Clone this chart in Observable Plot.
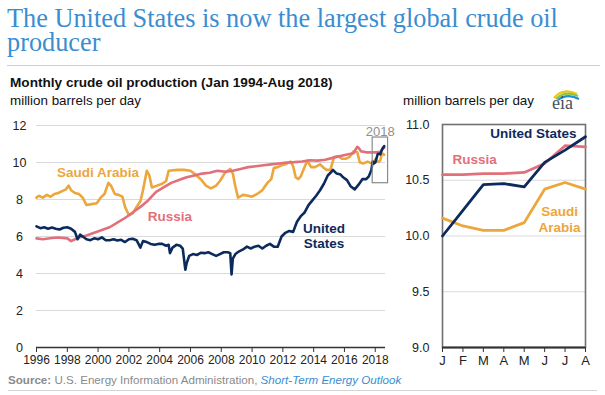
<!DOCTYPE html>
<html>
<head>
<meta charset="utf-8">
<script src="https://cdn.jsdelivr.net/npm/d3@7"></script>
<script src="https://cdn.jsdelivr.net/npm/@observablehq/plot@0.6"></script>
<style>
  html, body { margin: 0; padding: 0; background: #fff; }
  body { width: 605px; height: 395px; position: relative; overflow: hidden;
         font-family: "Liberation Sans", Arial, sans-serif; color: #222; }
  .abs { position: absolute; white-space: nowrap; }
  #title { left: 7px; top: 7px; font-family: "Liberation Serif", "Times New Roman", serif;
           font-size: 26.3px; line-height: 24px; color: #3a8dd0; white-space: normal; width: 590px; }
  #rule1 { left: 7px; top: 65px; width: 593px; height: 0; border-top: 1px solid #cfcfcf; }
  #sub { left: 10px; top: 75px; font-size: 13.6px; line-height: 15px; font-weight: bold; color: #111; }
  #unitL { left: 10px; top: 94px; font-size: 13.4px; line-height: 14px; color: #111; }
  #unitR { left: 403px; top: 94px; font-size: 13.4px; line-height: 14px; color: #111; }
  #logo { left: 548px; top: 86px; }
  #left { left: 0px; top: 110px; }
  #right { left: 395px; top: 110px; }
  #foot { left: 8px; top: 373px; font-size: 11.6px; line-height: 14px; color: #8a8a8a; }
  #foot b { color: #8a8a8a; }
  #foot i { color: #3a8dd0; }
  #rule2 { left: 8px; top: 390px; width: 589px; height: 0; border-top: 1px solid #d5d5d5; }
</style>
</head>
<body>
<div id="title" class="abs">The United States is now the largest global crude oil producer</div>
<div id="rule1" class="abs"></div>
<div id="sub" class="abs">Monthly crude oil production (Jan 1994-Aug 2018)</div>
<div id="unitL" class="abs">million barrels per day</div>
<div id="unitR" class="abs">million barrels per day</div>
<div id="logo" class="abs">
  <svg width="34" height="26" viewBox="0 0 34 26">
    <path d="M6 12 Q15 1 29 8" fill="none" stroke="#f2c51c" stroke-width="2.2"/>
    <path d="M8 13 Q17 4 30 10" fill="none" stroke="#8cc63f" stroke-width="2.2"/>
    <path d="M10 14 Q19 7 31 13" fill="none" stroke="#1e90d6" stroke-width="2.2"/>
    <text x="4" y="23" font-family="Liberation Serif, serif" font-size="18" fill="#44525e">eia</text>
  </svg>
</div>
<div id="left" class="abs"></div>
<div id="right" class="abs"></div>
<div id="foot" class="abs"><b>Source:</b> U.S. Energy Information Administration, <i>Short-Term Energy Outlook</i></div>
<div id="rule2" class="abs"></div>

<script>
// ---------------- DATA ----------------
const seriesNames = ["Saudi Arabia", "Russia", "United States"];
const seriesColors = ["#eca63b", "#e2707b", "#0c2b5c"];

// Monthly crude oil production, million barrels per day
const usProd = [
  ["1996-01",6.55],["1996-04",6.45],["1996-07",6.5],["1996-10",6.42],["1997-01",6.48],["1997-04",6.42],
  ["1997-07",6.38],["1997-10",6.47],["1998-01",6.5],["1998-04",6.42],["1998-07",6.25],["1998-09",5.85],
  ["1998-11",6.1],["1999-01",6.0],["1999-04",5.85],["1999-07",5.8],["1999-10",5.9],["2000-01",5.85],
  ["2000-04",5.95],["2000-07",5.8],["2000-10",5.8],["2001-01",5.85],["2001-04",5.78],["2001-07",5.82],
  ["2001-10",5.7],["2002-01",5.85],["2002-04",5.88],["2002-07",5.8],["2002-10",5.4],["2002-12",5.75],
  ["2003-03",5.7],["2003-06",5.6],["2003-09",5.55],["2003-12",5.6],["2004-03",5.6],["2004-06",5.5],
  ["2004-08",5.55],["2004-09",5.1],["2004-11",5.4],["2005-02",5.55],["2005-05",5.5],["2005-07",5.35],
  ["2005-09",4.2],["2005-10",4.55],["2005-12",4.95],["2006-03",5.05],["2006-06",5.0],["2006-09",5.12],
  ["2006-12",5.1],["2007-03",5.15],["2007-06",5.05],["2007-09",4.95],["2007-12",5.05],["2008-03",5.15],
  ["2008-06",5.15],["2008-08",5.1],["2008-09",3.95],["2008-10",4.8],["2008-12",5.05],["2009-03",5.2],
  ["2009-06",5.3],["2009-09",5.45],["2009-12",5.35],["2010-03",5.45],["2010-06",5.5],["2010-09",5.35],
  ["2010-12",5.5],["2011-03",5.6],["2011-06",5.45],["2011-09",5.45],["2011-12",6.0],["2012-03",6.2],
  ["2012-06",6.3],["2012-09",6.25],["2012-12",6.8],["2013-03",7.1],["2013-06",7.3],["2013-09",7.7],
  ["2013-12",7.95],["2014-03",8.2],["2014-06",8.5],["2014-09",8.85],["2014-12",9.3],["2015-03",9.5],
  ["2015-04",9.6],["2015-07",9.4],["2015-10",9.35],["2015-12",9.2],["2016-03",9.05],["2016-06",8.7],
  ["2016-09",8.55],["2016-12",8.8],["2017-03",9.1],["2017-06",9.1],["2017-08",9.25],["2017-10",9.6],
  ["2017-11",10.05],["2017-12",9.95],["2018-01",10.0],["2018-02",10.23],["2018-03",10.46],["2018-04",10.47],
  ["2018-05",10.44],["2018-06",10.66],["2018-07",10.77],["2018-08",10.89]
];
const russiaProd = [
  ["1996-01",5.9],["1996-06",5.85],["1997-01",5.92],["1997-06",5.95],["1998-01",5.9],["1998-04",5.75],
  ["1998-07",5.85],["1998-10",5.95],["1999-04",6.05],["1999-10",6.2],["2000-04",6.35],["2000-10",6.5],
  ["2001-04",6.75],["2001-10",7.0],["2002-04",7.3],["2002-10",7.6],["2003-04",7.95],["2003-10",8.4],
  ["2004-04",8.65],["2004-10",8.9],["2005-04",9.05],["2005-10",9.2],["2006-04",9.3],["2006-10",9.4],
  ["2007-04",9.45],["2007-10",9.55],["2008-04",9.5],["2008-10",9.55],["2009-04",9.65],["2009-10",9.75],
  ["2010-04",9.8],["2010-10",9.85],["2011-04",9.9],["2011-10",9.95],["2012-04",10.0],["2012-10",10.02],
  ["2013-04",10.05],["2013-10",10.12],["2014-04",10.1],["2014-10",10.15],["2015-04",10.25],["2015-10",10.35],
  ["2016-04",10.45],["2016-08",10.5],["2016-11",10.85],["2016-12",10.8],["2017-02",10.6],["2017-06",10.55],
  ["2017-10",10.55],["2017-12",10.55],["2018-01",10.55],["2018-02",10.55],["2018-03",10.56],["2018-04",10.56],
  ["2018-05",10.57],["2018-06",10.65],["2018-07",10.81],["2018-08",10.8]
];
const saudiProd = [
  ["1996-01",8.1],["1996-03",8.2],["1996-06",8.1],["1996-09",8.25],["1996-12",8.15],["1997-03",8.3],
  ["1997-06",8.35],["1997-09",8.45],["1997-12",8.55],["1998-02",8.75],["1998-04",8.5],["1998-07",8.35],
  ["1998-10",8.3],["1999-01",8.1],["1999-04",7.7],["1999-08",7.75],["1999-12",7.8],["2000-03",8.1],
  ["2000-06",8.3],["2000-09",8.9],["2000-11",8.75],["2001-02",8.3],["2001-05",8.25],["2001-08",8.15],
  ["2001-10",7.6],["2002-01",7.15],["2002-04",7.25],["2002-07",7.6],["2002-10",7.9],["2002-12",8.5],
  ["2003-03",9.55],["2003-05",9.3],["2003-07",8.65],["2003-11",8.75],["2004-03",8.85],["2004-06",9.0],
  ["2004-08",9.55],["2005-03",9.6],["2005-08",9.6],["2006-01",9.55],["2006-04",9.4],["2006-09",9.1],
  ["2007-01",8.75],["2007-05",8.6],["2007-09",8.75],["2007-12",9.0],["2008-04",9.45],["2008-08",9.65],
  ["2008-10",9.4],["2008-12",8.7],["2009-02",8.1],["2009-06",8.25],["2009-10",8.2],["2010-01",8.15],
  ["2010-05",8.3],["2010-09",8.5],["2011-01",8.9],["2011-04",9.1],["2011-06",9.7],["2011-09",9.75],
  ["2011-12",9.85],["2012-03",9.9],["2012-07",10.05],["2012-09",9.8],["2012-11",9.2],["2013-01",9.1],
  ["2013-03",9.25],["2013-05",9.6],["2013-08",10.1],["2013-11",9.75],["2014-02",9.75],["2014-06",9.9],
  ["2014-09",9.7],["2014-11",9.6],["2015-02",9.6],["2015-05",10.3],["2015-08",10.35],["2015-11",10.2],
  ["2016-02",10.2],["2016-05",10.3],["2016-08",10.6],["2016-11",10.55],["2017-01",10.0],["2017-04",9.95],
  ["2017-07",10.05],["2017-10",9.95],["2017-12",10.0],["2018-01",10.16],["2018-02",10.09],["2018-03",10.05],
  ["2018-04",10.05],["2018-05",10.12],["2018-06",10.42],["2018-07",10.48],["2018-08",10.42]
];

// 2018 detail panel (Jan-Aug)
const monthLabels = ["J","F","M","A","M","J","J","A"];
const us2018 = [10.0, 10.23, 10.46, 10.47, 10.44, 10.66, 10.77, 10.89];
const russia2018 = [10.55, 10.55, 10.56, 10.56, 10.57, 10.65, 10.81, 10.8];
const saudi2018 = [10.16, 10.09, 10.05, 10.05, 10.12, 10.42, 10.48, 10.42];

// ticks
const yTicksLeft = [0, 2, 4, 6, 8, 10, 12];
const xTickYears = [1996,1998,2000,2002,2004,2006,2008,2010,2012,2014,2016,2018];
const yTicksRight = [9.0, 9.5, 10.0, 10.5, 11.0];

// annotations (data coordinates)
const leftLabels = [
  {text: "Saudi Arabia", date: "2000-01", value: 9.5, series: 0},
  {text: "Russia", date: "2004-09", value: 7.13, series: 1},
  {text: "United\nStates", date: "2014-09", value: 6.05, series: 2}
];
const rightLabels = [
  {text: "United States", month: 5.45, value: 10.92, series: 2},
  {text: "Russia", month: 2.57, value: 10.69, series: 1},
  {text: "Saudi\nArabia", month: 6.73, value: 10.15, series: 0}
];
const box2018 = {from: "2017-11", to: "2018-11", low: 8.88, high: 11.35, label: "2018", labelDate: "2018-05", labelValue: 11.68};

// ---------------- BUILD ----------------
const parse = d3.utcParse("%Y-%m");
const rows = (arr, s) => arr.map(([d, v]) => ({date: parse(d), value: v, series: s}));
const leftData = [...rows(saudiProd, 0), ...rows(russiaProd, 1), ...rows(usProd, 2)];
const rightData = [
  ...saudi2018.map((v, i) => ({m: i + 1, value: v, series: 0})),
  ...russia2018.map((v, i) => ({m: i + 1, value: v, series: 1})),
  ...us2018.map((v, i) => ({m: i + 1, value: v, series: 2}))
];
const color = s => seriesColors[s];
const fontStyle = {fontFamily: "'Liberation Sans', Arial, sans-serif", fontSize: "12px", color: "#222", background: "transparent", overflow: "visible"};

const left = Plot.plot({
  width: 400, height: 265,
  marginLeft: 36, marginRight: 15, marginTop: 15, marginBottom: 28,
  style: fontStyle,
  x: {type: "utc", domain: [parse("1996-01"), parse("2018-09")]},
  y: {domain: [0, 12]},
  marks: [
    Plot.gridY(yTicksLeft.filter(d => d > 0), {stroke: "#d9d9d9", strokeOpacity: 1}),
    Plot.axisY(yTicksLeft, {tickSize: 0, tickPadding: 17, textAnchor: "middle", label: null, fontSize: 12.5, fill: "#222"}),
    Plot.axisX(xTickYears.map(y => new Date(Date.UTC(y, 0, 1))), {tickSize: 5, tickPadding: 3, tickFormat: d3.utcFormat("%Y"), label: null, fontSize: 12, stroke: "#333", fill: "#222"}),
    Plot.ruleY([0], {stroke: "#333", strokeWidth: 1.5}),
    ...[0, 1, 2].map(s => Plot.line(leftData.filter(d => d.series === s), {x: "date", y: "value", stroke: color(s), strokeWidth: 2.6})),
    Plot.rect([box2018], {x1: d => parse(d.from), x2: d => parse(d.to), y1: "low", y2: "high", fill: "none", stroke: "#8a8a8a", strokeWidth: 1.2}),
    Plot.text([box2018], {x: d => parse(d.labelDate), y: "labelValue", text: "label", fill: "#8f8f8f", fontSize: 13}),
    Plot.text(leftLabels, {x: d => parse(d.date), y: "value", text: "text", fill: d => color(d.series), fontWeight: "bold", fontSize: 13.5, lineHeight: 1.15})
  ]
});
document.getElementById("left").appendChild(left);

const right = Plot.plot({
  width: 210, height: 265,
  marginLeft: 47, marginRight: 20, marginTop: 14, marginBottom: 28,
  style: fontStyle,
  x: {domain: [1, 8]},
  y: {domain: [9, 11]},
  marks: [
    Plot.gridY([9.5, 10, 10.5], {stroke: "#d9d9d9", strokeOpacity: 1}),
    Plot.frame({stroke: "#707070", strokeWidth: 1.6}),
    Plot.axisY(yTicksRight, {tickSize: 0, tickPadding: 13, tickFormat: d3.format(".1f"), label: null, fontSize: 12.5, fill: "#222"}),
    Plot.axisX(d3.range(1, 9), {tickSize: 5, tickPadding: 3, tickFormat: d => monthLabels[d - 1], label: null, fontSize: 13, stroke: "#333", fill: "#222"}),
    Plot.ruleY([9], {stroke: "#333", strokeWidth: 2}),
    ...[0, 1, 2].map(s => Plot.line(rightData.filter(d => d.series === s), {x: "m", y: "value", stroke: color(s), strokeWidth: 2.8})),
    Plot.text(rightLabels, {x: "month", y: "value", text: "text", fill: d => color(d.series), fontWeight: "bold", fontSize: 13.5, lineHeight: 1.15})
  ]
});
document.getElementById("right").appendChild(right);
</script>
</body>
</html>
